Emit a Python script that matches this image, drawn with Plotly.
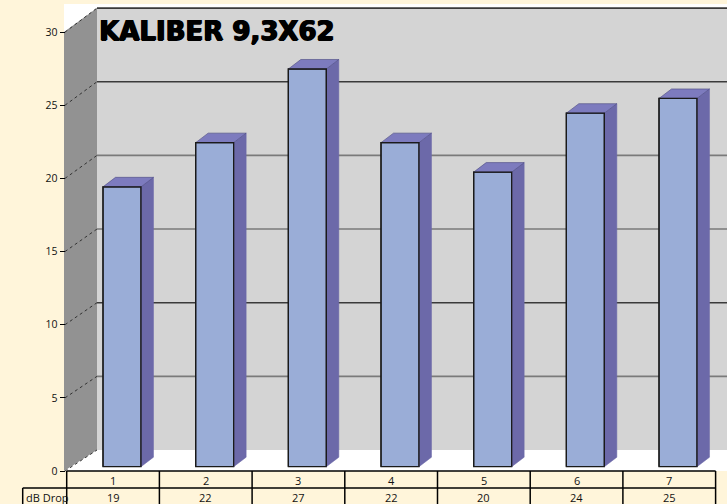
import plotly.graph_objects as go

# ---- data ----
categories = [1, 2, 3, 4, 5, 6, 7]
values = [19, 22, 27, 22, 20, 24, 25]
series_name = "dB Drop"
title_text = "KALIBER 9,3X62"
tick_values = [0, 5, 10, 15, 20, 25, 30]

W, H = 727, 504
BG = "#FFF5DA"
FRONT = "#9AADD7"
SIDE = "#6C69A9"
TOP = "#7D7BBE"

def px(x):
    return x / W

def py(y):
    return 1 - y / H

# bar axis: category k centre at pixel 122 + 92.67*(k-1); value v at pixel 466.7 - 14.73*v
XS = 92.67
YS = 14.73
x_range = [1 - 122 / XS, 1 + (W - 122) / XS]
y_range = [-(H - 466.7) / YS, 466.7 / YS]
# front value axis: 0 at 471, 14.63 px per unit
YS2 = 14.63
y2_range = [-(H - 471) / YS2, 471 / YS2]

bw = 38 / XS
ddx = 12.5 / XS
ddy = 9.5 / YS

fig = go.Figure()

fig.add_trace(go.Bar(x=categories, y=values, width=bw, marker=dict(color=FRONT, line=dict(color="#1a1a1a", width=1.2)),
                     name=series_name, showlegend=False, hoverinfo="x+y"))

for c, v in zip(categories, values):
    xl, xr = c - bw / 2, c + bw / 2
    fig.add_trace(go.Scatter(x=[xr, xr, xr + ddx, xr + ddx, xr], y=[0, v, v + ddy, ddy, 0],
                             fill="toself", fillcolor=SIDE, mode="lines", line=dict(color=SIDE, width=0.5),
                             showlegend=False, hoverinfo="skip"))
    fig.add_trace(go.Scatter(x=[xl, xr, xr + ddx, xl + ddx, xl], y=[v, v, v + ddy, v + ddy, v],
                             fill="toself", fillcolor=TOP, mode="lines", line=dict(color="#4a4880", width=0.6),
                             showlegend=False, hoverinfo="skip"))
    fig.add_trace(go.Scatter(x=[xl, xl, xr, xr], y=[0, v, v, 0], mode="lines",
                             line=dict(color="#1a1a1a", width=1.3), showlegend=False, hoverinfo="skip"))

# hidden trace to carry the visible front value axis
fig.add_trace(go.Scatter(x=[None], y=[None], yaxis="y2", showlegend=False, hoverinfo="skip"))

shapes = []

def poly(points, fill, line_color=None, width=0, layer="below"):
    d = "M " + " L ".join(f"{px(a):.5f},{py(b):.5f}" for a, b in points) + " Z"
    return dict(type="path", xref="paper", yref="paper", path=d, fillcolor=fill,
                line=dict(color=line_color or fill, width=width), layer=layer)

def seg(x0, y0, x1, y1, color="#000", width=1.5, dash="solid", layer="above"):
    return dict(type="line", xref="paper", yref="paper", x0=px(x0), y0=py(y0), x1=px(x1), y1=py(y1),
                line=dict(color=color, width=width, dash=dash), layer=layer)

# chart area (white), back wall, floor, left wall
shapes.append(poly([(64, 4), (W, 4), (W, 471), (64, 471)], "#FFFFFF"))
shapes.append(poly([(97, 8), (W, 8), (W, 450), (97, 450)], "#D4D4D4"))
shapes.append(poly([(97, 450), (W, 450), (W, 471), (64, 471)], "#FFFFFF"))
shapes.append(poly([(64, 32), (97, 8), (97, 450), (64, 471)], "#929292"))

# back wall gridlines + dashed side gridlines
for t in tick_values:
    yb = 450 - YS * t
    yf = 471 - YS2 * t
    if t > 0:
        col = "#3a3a3a" if t in (25, 10, 30) else "#7a7a7a"
        shapes.append(seg(97, yb, W, yb, color=col, width=1.6, layer="below"))
    shapes.append(seg(65, yf, 97, yb, color="#333333", width=1, dash="dot", layer="below"))

# data table
row_top, row_mid, row_bot = 471, 488, 506
col0, colw = 66.7, 92.7
col_end = col0 + colw * len(categories)
shapes.append(seg(col0, row_top, col_end, row_top))
shapes.append(seg(22.7, row_mid, col_end, row_mid))
shapes.append(seg(22.7, row_bot, col_end, row_bot))
shapes.append(seg(22.7, row_mid, 22.7, row_bot))
for k in range(len(categories) + 1):
    xk = col0 + colw * k
    shapes.append(seg(xk, row_top, xk, row_bot))

annotations = []
tfont = dict(family="Open Sans, Noto Sans, sans-serif", size=11, color="#111")
for k, (c, v) in enumerate(zip(categories, values)):
    xc = col0 + colw * (k + 0.5)
    annotations.append(dict(text=str(c), x=px(xc), y=py(480.5), xref="paper", yref="paper",
                            showarrow=False, xanchor="center", yanchor="middle", font=tfont))
    annotations.append(dict(text=str(v), x=px(xc), y=py(497.5), xref="paper", yref="paper",
                            showarrow=False, xanchor="center", yanchor="middle", font=tfont))
annotations.append(dict(text=series_name, x=px(23.5), y=py(497.5), xref="paper", yref="paper",
                        showarrow=False, xanchor="left", yanchor="middle", font=tfont))
annotations.append(dict(text=title_text, x=px(97), y=py(31), xref="paper", yref="paper",
                        showarrow=False, xanchor="left", yanchor="middle",
                        font=dict(family="DejaVu Sans, sans-serif", size=26, color="#000", weight="bold",
                                  shadow="1px 0px 0px #000, -0.6px 0px 0px #000, 0px 0.6px 0px #000")))

fig.update_layout(
    width=W, height=H, margin=dict(l=0, r=0, t=0, b=0),
    paper_bgcolor=BG, plot_bgcolor="rgba(0,0,0,0)",
    showlegend=False,
    xaxis=dict(range=x_range, visible=False, fixedrange=True),
    yaxis=dict(range=y_range, visible=False, fixedrange=True),
    yaxis2=dict(range=y2_range, overlaying="y", anchor="free", position=px(64.5), side="left",
                tickvals=tick_values, ticktext=[str(t) for t in tick_values],
                ticks="outside", ticklen=5, tickwidth=1, tickcolor="#000",
                showline=False, showgrid=False, zeroline=False,
                tickfont=dict(family="Open Sans, Noto Sans, sans-serif", size=10.5, color="#111"),
                fixedrange=True),
    shapes=shapes, annotations=annotations,
)

fig.write_html("out.html")
